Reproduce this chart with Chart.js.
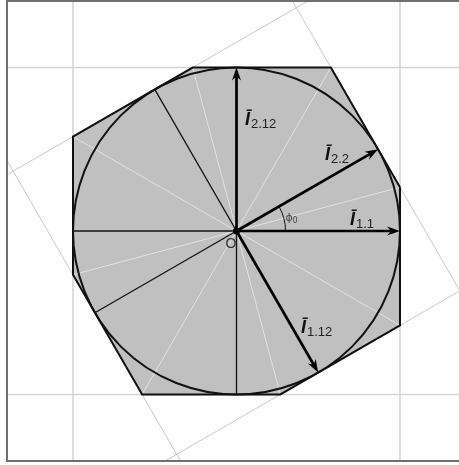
<!DOCTYPE html>
<html>
<head>
<meta charset="utf-8">
<script src="https://cdn.jsdelivr.net/npm/chart.js@4/dist/chart.umd.min.js"></script>
<style>
  html, body { margin: 0; padding: 0; background: #fff; }
  canvas { display: block; }
</style>
</head>
<body>
<canvas id="phasor" width="459" height="465"></canvas>
<script>
// --- Data (unit circle, R = 1) ---
const gridTicks = [-1, 1];
const arrowNames = ['1.1', '2.2', '2.12', '1.12'];
const arrowAngles = [0, 30, 90, -60];
const spokeAngles = [120, 180, 210, 270];
const rotatedAngles = [30, 120, 210, 300];
const vertexX = [1, 0.577, -0.268, -1, -1, -0.577, 0.268, 1];
const vertexY = [0.268, 1, 1, 0.577, -0.268, -1, -1, -0.577];
const phi0 = 30;

const rad = a => a * Math.PI / 180;
const seg = (x1, y1, x2, y2) => [{ x: x1, y: y1 }, { x: x2, y: y2 }];

function lineSet(points, color, width, order) {
    return {
        data: points, showLine: true, borderColor: color, borderWidth: width,
        pointRadius: 0, fill: false, order: order
    };
}

const datasets = [];

// grid lines at +-R
gridTicks.forEach(t => {
    datasets.push(lineSet(seg(t, -3, t, 3), '#d4d4d4', 1.5, 50));
    datasets.push(lineSet(seg(-3, t, 3, t), '#d4d4d4', 1.5, 50));
});

// sides of the rotated square, extended over the plot
rotatedAngles.forEach(a => {
    const cx = Math.cos(rad(a)), cy = Math.sin(rad(a));
    datasets.push(lineSet(seg(cx + 3 * cy, cy - 3 * cx, cx - 3 * cy, cy + 3 * cx), '#c8c8c8', 1, 49));
});

// light spokes to the polygon vertices
vertexX.forEach((x, i) => {
    datasets.push(lineSet(seg(0, 0, x, vertexY[i]), '#e2e2e2', 1, 40));
});

// thin black spokes to tangent points
spokeAngles.forEach(a => {
    datasets.push(lineSet(seg(0, 0, Math.cos(rad(a)), Math.sin(rad(a))), '#111', 1.3, 30));
});

// polygon outline
const poly = vertexX.map((x, i) => ({ x: x, y: vertexY[i] }));
poly.push(poly[0]);
datasets.push(lineSet(poly, '#111', 2, 20));

// arrow shafts
arrowAngles.forEach(a => {
    datasets.push(lineSet(seg(0, 0, 0.95 * Math.cos(rad(a)), 0.95 * Math.sin(rad(a))), '#000', 2.7, 10));
});

// --- Drawing helpers (plugin) ---
const px = (chart, x, y) => ({ x: chart.scales.x.getPixelForValue(x), y: chart.scales.y.getPixelForValue(y) });

const labelPos = {
    '1.1': [0.694, 0.037],
    '2.2': [0.541, 0.434],
    '2.12': [0.052, 0.648],
    '1.12': [0.394, -0.624]
};

const phasorPlugin = {
    id: 'phasor',
    beforeDatasetsDraw(chart) {
        const ctx = chart.ctx;
        ctx.save();
        ctx.beginPath();
        vertexX.forEach((x, i) => {
            const p = px(chart, x, vertexY[i]);
            if (i === 0) ctx.moveTo(p.x, p.y); else ctx.lineTo(p.x, p.y);
        });
        ctx.closePath();
        ctx.fillStyle = '#c0c0c0';
        ctx.fill();
        ctx.restore();
    },
    afterDatasetsDraw(chart) {
        const ctx = chart.ctx;
        const area = chart.chartArea;
        const o = px(chart, 0, 0);
        const r = chart.scales.x.getPixelForValue(1) - o.x;
        ctx.save();

        // circle
        ctx.beginPath();
        ctx.arc(o.x, o.y, r, 0, Math.PI * 2);
        ctx.strokeStyle = '#111';
        ctx.lineWidth = 2;
        ctx.stroke();

        // arrowheads
        arrowAngles.forEach(a => {
            const tip = px(chart, Math.cos(rad(a)), Math.sin(rad(a)));
            ctx.save();
            ctx.translate(tip.x, tip.y);
            ctx.rotate(-rad(a));
            ctx.beginPath();
            ctx.moveTo(0, 0);
            ctx.lineTo(-13, -4.5);
            ctx.lineTo(-9, 0);
            ctx.lineTo(-13, 4.5);
            ctx.closePath();
            ctx.fillStyle = '#000';
            ctx.fill();
            ctx.restore();
        });

        // phi0 arc
        const ar = chart.scales.x.getPixelForValue(0.3) - o.x;
        ctx.beginPath();
        ctx.arc(o.x, o.y, ar, -rad(phi0), 0);
        ctx.strokeStyle = '#111';
        ctx.lineWidth = 1;
        ctx.stroke();

        // centre dot
        ctx.beginPath();
        ctx.arc(o.x, o.y, 3.5, 0, Math.PI * 2);
        ctx.fillStyle = '#000';
        ctx.fill();

        // labels
        ctx.textBaseline = 'alphabetic';
        ctx.textAlign = 'left';
        arrowNames.forEach(name => {
            const p = px(chart, labelPos[name][0], labelPos[name][1]);
            ctx.fillStyle = '#111';
            ctx.font = 'italic bold 18px "Liberation Sans", Arial, sans-serif';
            ctx.fillText('Ī', p.x, p.y);
            const w = ctx.measureText('Ī').width;
            ctx.fillStyle = '#222';
            ctx.font = '13px "Liberation Sans", Arial, sans-serif';
            ctx.fillText(name, p.x + w + 1, p.y + 3);
        });

        ctx.fillStyle = '#333';
        ctx.font = '14px "Liberation Sans", Arial, sans-serif';
        ctx.fillText('O', o.x - 11, o.y + 17);

        ctx.fillStyle = '#444';
        ctx.font = '11px "DejaVu Sans", sans-serif';
        ctx.fillText('ϕ', o.x + 49, o.y - 10);
        ctx.font = '8px "DejaVu Sans", sans-serif';
        ctx.fillText('0', o.x + 56, o.y - 8);

        // frame (left, top, bottom)
        ctx.beginPath();
        ctx.moveTo(area.right + 2, area.top);
        ctx.lineTo(area.left, area.top);
        ctx.lineTo(area.left, area.bottom);
        ctx.lineTo(area.right + 2, area.bottom);
        ctx.strokeStyle = '#707070';
        ctx.lineWidth = 2;
        ctx.stroke();

        ctx.restore();
    }
};

new Chart(document.getElementById('phasor'), {
    type: 'scatter',
    data: { datasets: datasets },
    options: {
        responsive: false,
        animation: false,
        layout: { padding: { left: 7, top: 1, right: 0, bottom: 4 } },
        plugins: { legend: { display: false }, tooltip: { enabled: false } },
        scales: {
            x: { display: false, min: -1.4037, max: 1.3609 },
            y: { display: false, min: -1.407, max: 1.407 }
        }
    },
    plugins: [phasorPlugin]
});
</script>
</body>
</html>
